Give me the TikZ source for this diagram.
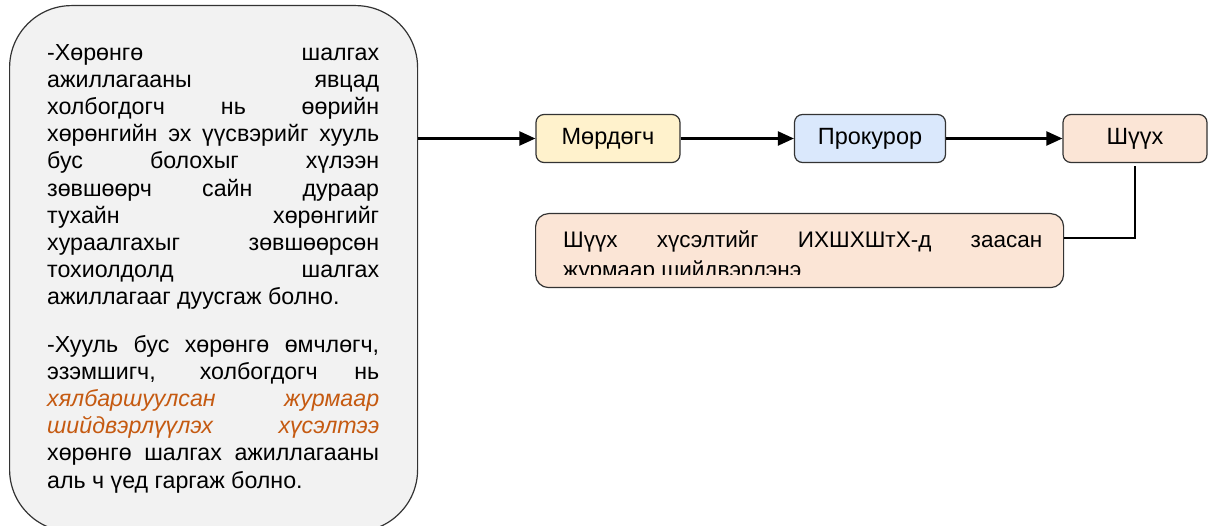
\documentclass[tikz,border=0pt]{standalone}
\usepackage{fontspec}
\setmainfont{Liberation Sans}
\usetikzlibrary{arrows.meta}
\definecolor{notegray}{HTML}{F2F2F2}
\definecolor{mordyellow}{HTML}{FFF2CC}
\definecolor{prokblue}{HTML}{DAE8FC}
\definecolor{courtpeach}{HTML}{FBE5D6}
\definecolor{hiorange}{HTML}{C55A11}
\definecolor{edgegray}{HTML}{333333}

\begin{document}
\begin{tikzpicture}[x=1pt, y=-1pt,
    stage/.style={draw=edgegray, line width=1.2pt, rounded corners=8pt, minimum width=144pt, minimum height=48pt, font=\fontsize{23.5}{26}\selectfont},
    flow/.style={line width=2.2pt, -{Triangle[length=16pt,width=14pt]}}]
  \useasboundingbox (0,0) rectangle (1208,526);
  \node[draw=edgegray, line width=1.2pt, fill=notegray, rounded corners=62pt, minimum width=408pt, minimum height=526pt, anchor=north west, inner sep=0pt] (note) at (9,5) {};
  \node[anchor=north west, inner sep=0pt, text width=332pt, align=justify, font=\fontsize{23.2}{27.2}\selectfont] (notetext) at (47,44)
    {\hyphenpenalty=10000\exhyphenpenalty=10000
     -Хөрөнгө шалгах\linebreak ажиллагааны явцад\linebreak холбогдогч нь өөрийн\linebreak
     хөрөнгийн эх үүсвэрийг хууль\linebreak бус болохыг хүлээн\linebreak зөвшөөрч сайн дураар\linebreak
     тухайн хөрөнгийг\linebreak хураалгахыг зөвшөөрсөн\linebreak тохиолдолд шалгах\linebreak
     ажиллагааг дуусгаж болно.\par\vspace{20pt}
     -Хууль бус хөрөнгө өмчлөгч,\linebreak эзэмшигч, холбогдогч нь\linebreak
     {\color{hiorange}\itshape хялбаршуулсан журмаар\linebreak шийдвэрлүүлэх хүсэлтээ}\linebreak
     хөрөнгө шалгах ажиллагааны\linebreak аль ч үед гаргаж болно.};
  \node[stage, fill=mordyellow] (mordegch) at (608,138.5) {Мөрдөгч};
  \node[stage, fill=prokblue, minimum width=151pt] (prokuror) at (870,138.5) {Прокурор};
  \node[stage, fill=courtpeach] (shuukh) at (1135,138.5) {Шүүх};
  \node[draw=edgegray, line width=1.2pt, fill=courtpeach, rounded corners=13pt, minimum width=528pt, minimum height=74pt, anchor=north west, inner sep=0pt] (req) at (535,213) {};
  \begin{scope}
    \clip (req.north west) rectangle (req.east |- 0,275);
    \node[anchor=north west, inner sep=0pt, text width=479pt, align=justify, font=\fontsize{22.5}{30}\selectfont] (reqtext) at (563,231)
      {\hyphenpenalty=10000\exhyphenpenalty=10000 Шүүх хүсэлтийг ИХШХШтХ-д заасан\linebreak журмаар шийдвэрлэнэ};
  \end{scope}
  \draw[flow] (note.east |- mordegch.west) -- (mordegch.west);
  \draw[flow] (mordegch) -- (prokuror);
  \draw[flow] (prokuror) -- (shuukh);
  \coordinate (bend) at (shuukh.south |- 0,238);
  \draw[line width=2.2pt] ([yshift=-3pt]shuukh.south) -- (bend) -- (req.east |- bend);
\end{tikzpicture}
\end{document}
